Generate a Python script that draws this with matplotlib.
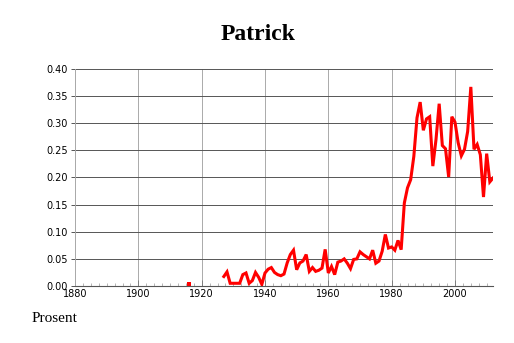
import numpy as np
import matplotlib.pyplot as plt
from matplotlib.ticker import MultipleLocator

# Share of newborns named Patrick (percent)
years = [1916,
         1927, 1928, 1929, 1930, 1931, 1932, 1933, 1934, 1935, 1936,
         1937, 1938, 1939, 1940, 1941, 1942, 1943, 1944, 1945, 1946,
         1947, 1948, 1949, 1950, 1951, 1952, 1953, 1954, 1955, 1956,
         1957, 1958, 1959, 1960, 1961, 1962, 1963, 1964, 1965, 1966,
         1967, 1968, 1969, 1970, 1971, 1972, 1973, 1974, 1975, 1976,
         1977, 1978, 1979, 1980, 1981, 1982, 1983, 1984, 1985, 1986,
         1987, 1988, 1989, 1990, 1991, 1992, 1993, 1994, 1995, 1996,
         1997, 1998, 1999, 2000, 2001, 2002, 2003, 2004, 2005, 2006,
         2007, 2008, 2009, 2010, 2011, 2012]
values = [0.004,
          0.0175, 0.026, 0.005, 0.005, 0.005, 0.005, 0.021, 0.024, 0.005, 0.010,
          0.025, 0.016, 0.003, 0.024, 0.031, 0.034, 0.025, 0.021, 0.019, 0.022,
          0.0425, 0.058, 0.066, 0.030, 0.0425, 0.046, 0.058, 0.027, 0.034, 0.027,
          0.029, 0.033, 0.0675, 0.024, 0.036, 0.021, 0.044, 0.046, 0.050, 0.042,
          0.032, 0.049, 0.050, 0.063, 0.058, 0.054, 0.050, 0.066, 0.042, 0.046,
          0.064, 0.095, 0.070, 0.072, 0.066, 0.084, 0.067, 0.153, 0.181, 0.196,
          0.239, 0.310, 0.339, 0.287, 0.308, 0.312, 0.221, 0.270, 0.336, 0.259,
          0.253, 0.201, 0.312, 0.302, 0.264, 0.240, 0.252, 0.285, 0.367, 0.252,
          0.261, 0.242, 0.164, 0.244, 0.192, 0.199]

yrs = np.array(years, dtype=float)
vals = np.array(values)

fig = plt.figure(figsize=(5.14, 3.43), dpi=100)
ax = fig.add_axes([75 / 514, 57 / 343, 418 / 514, 217 / 343])

# lone year before the continuous run
ax.plot(yrs[:1], vals[:1], 's', color='red', markersize=2.5, markeredgewidth=0)
ax.plot(yrs[1:], vals[1:], color='red', linewidth=2.2, solid_joinstyle='miter')

ax.set_xlim(1880, 2012)
ax.set_ylim(0, 0.40)
ax.xaxis.set_major_locator(MultipleLocator(20))
ax.xaxis.set_minor_locator(MultipleLocator(2.5))
ax.yaxis.set_major_locator(MultipleLocator(0.05))
ax.yaxis.set_major_formatter(plt.FuncFormatter(lambda v, p: f"{v:.2f}"))

ax.grid(axis='y', color='#555555', linewidth=0.7)
ax.grid(axis='x', color='#aaaaaa', linewidth=0.7)
ax.set_axisbelow(True)

for s in ['top', 'right']:
    ax.spines[s].set_visible(False)
ax.spines['left'].set_color('#aaaaaa')
ax.spines['left'].set_linewidth(0.7)
ax.spines['bottom'].set_color('#555555')
ax.spines['bottom'].set_linewidth(0.8)

ax.tick_params(axis='y', direction='out', length=3, width=0.7, color='#555555',
               labelsize=7, pad=2)
ax.tick_params(axis='x', which='major', direction='in', length=4, width=0.6,
               color='#777777', labelsize=7, pad=2)
ax.tick_params(axis='x', which='minor', direction='in', length=2.5, width=0.5,
               color='#999999')

fig.text(258 / 514, 1 - 34 / 343, 'Patrick', ha='center', va='center',
         family='Liberation Serif', fontweight='bold', fontsize=17)
fig.text(32 / 514, 1 - 318 / 343, 'Prosent', ha='left', va='center',
         family='Liberation Serif', fontsize=11)

fig.savefig('out.png', dpi=100)
